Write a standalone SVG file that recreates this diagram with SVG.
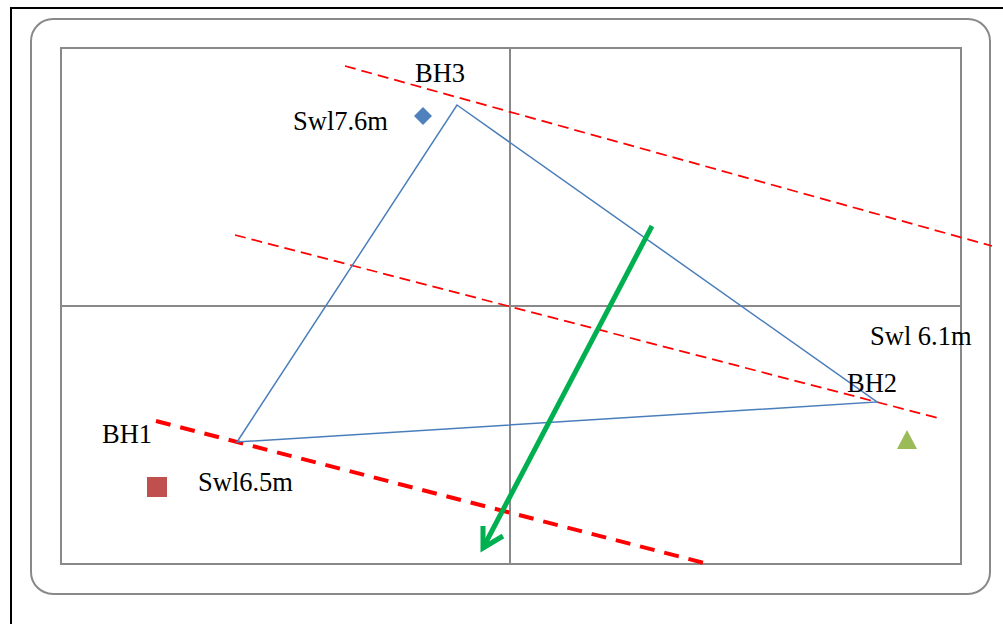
<svg xmlns="http://www.w3.org/2000/svg" width="1003" height="624" viewBox="0 0 1003 624">
<style>
text{font-family:"Liberation Serif","Times New Roman",serif;font-size:26.5px;fill:#000}
.grid{fill:none;stroke:#898989;stroke-width:2}
.rd{fill:none;stroke:#ff0000;stroke-width:1.75;stroke-dasharray:11 6}
.rdt{fill:none;stroke:#ff0000;stroke-width:4;stroke-dasharray:15 10}
</style>
<rect x="0" y="0" width="1003" height="624" fill="#fff"/>
<g id="frame">
<rect x="11" y="8" width="1000" height="630" fill="none" stroke="#000" stroke-width="2"/>
<rect x="31" y="19" width="959" height="575" rx="22" ry="22" class="grid"/>
<rect x="61" y="48" width="900" height="516" class="grid"/>
<line x1="510" y1="48" x2="510" y2="564" class="grid"/>
<line x1="61" y1="306" x2="961" y2="306" class="grid"/>
</g>
<g id="connectors">
<line x1="345" y1="66" x2="992" y2="246" class="rd"/>
<line x1="235" y1="235" x2="942" y2="419" class="rd"/>
<line x1="156" y1="421" x2="708" y2="564" class="rdt"/>
<polygon points="457,105 877,402 237,442" fill="none" stroke="#4a7ebb" stroke-width="1.5"/>
<line x1="652" y1="226" x2="484" y2="546" stroke="#00b050" stroke-width="5"/>
<polyline points="483,526 483,548 503,536" fill="none" stroke="#00b050" stroke-width="5" stroke-linejoin="miter"/>
</g>
<g id="BH3">
<polygon points="423,107 432,116 423,125 414,116" fill="#4f81bd"/>
<text x="415" y="82">BH3</text>
<text x="293" y="130">Swl7.6m</text>
</g>
<g id="BH2">
<polygon points="907,430 917,449 897,449" fill="#9bbb59"/>
<text x="847" y="392">BH2</text>
<text x="870" y="345">Swl 6.1m</text>
</g>
<g id="BH1">
<rect x="147" y="477" width="20" height="20" fill="#c0504d"/>
<text x="102" y="443">BH1</text>
<text x="198" y="491">Swl6.5m</text>
</g>
</svg>
